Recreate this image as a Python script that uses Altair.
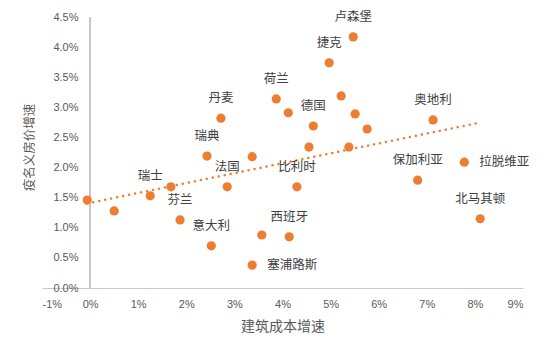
import altair as alt
import pandas as pd

# 建筑成本增速 (%)
x_growth = [-0.06, 0.50, 1.25, 1.68, 1.87, 2.52, 2.85, 3.37, 3.57, 4.14, 4.30,
            6.81, 8.11, 7.78, 7.13, 5.47, 4.97, 5.22, 5.51, 5.76, 4.64, 4.55,
            5.38, 3.87, 4.12, 2.72, 2.43, 3.37]
# 疫名义房价增速 (%)
y_growth = [1.46, 1.28, 1.53, 1.68, 1.13, 0.70, 1.68, 0.38, 0.88, 0.85, 1.68,
            1.79, 1.15, 2.09, 2.79, 4.17, 3.74, 3.19, 2.89, 2.64, 2.69, 2.34,
            2.34, 3.14, 2.91, 2.82, 2.19, 2.18]
names = ["", "", "瑞士", "", "芬兰", "意大利", "法国", "塞浦路斯", "", "西班牙", "比利时",
         "保加利亚", "北马其顿", "拉脱维亚", "奥地利", "卢森堡", "捷克", "", "", "", "德国", "",
         "", "荷兰", "", "丹麦", "瑞典", ""]
label_pos = ["", "", "above", "", "above", "above", "above", "right", "", "above", "above",
             "above", "above", "right", "above", "above", "above", "", "", "", "above", "",
             "", "above", "", "above", "above", ""]

x_ticks = [-1, 0, 1, 2, 3, 4, 5, 6, 7, 8, 9]
y_ticks = [0, 0.5, 1.0, 1.5, 2.0, 2.5, 3.0, 3.5, 4.0, 4.5]

df = pd.DataFrame({"x": x_growth, "y": y_growth, "name": names, "pos": label_pos})

ORANGE = "#ED7D31"
GRAY = "#595959"
CJK = "Noto Sans CJK SC"

xs = alt.Scale(domain=[-1, 9], nice=False, zero=False)
ys = alt.Scale(domain=[0, 4.5], nice=False, zero=False)

x_axis = alt.Axis(
    title="建筑成本增速", values=x_ticks, grid=False, ticks=False,
    domainColor="#c8c8c8", domainWidth=1.2,
    labelExpr="datum.value + '%'", labelColor=GRAY, labelFont="Liberation Sans",
    labelFontSize=11, labelPadding=10, labelOverlap=False, labelBound=False,
    titleFont=CJK, titleFontSize=14, titleFontWeight="normal", titleColor=GRAY,
    titleX=240.5, titleY=38, titleBaseline="middle", titleAlign="center",
)
y_axis = alt.Axis(
    title="疫名义房价增速", values=y_ticks, grid=False, ticks=False, domain=False,
    offset=-37, labelPadding=1, labelOverlap=False, labelBound=False,
    labelExpr="format(datum.value, '.1f') + '%'", labelColor=GRAY,
    labelFont="Liberation Sans", labelFontSize=11, labelBaseline="middle",
    titleFont=CJK, titleFontSize=12.5, titleFontWeight="normal", titleColor=GRAY,
    titleX=-50, titleY=130, titleAngle=-90, titleBaseline="middle", titleAlign="center",
)

X = alt.X("x:Q", scale=xs, axis=x_axis)
Y = alt.Y("y:Q", scale=ys, axis=y_axis)

base = alt.Chart(df)

vline = base.mark_rule(color="#c8c8c8", strokeWidth=1.2).encode(
    x=alt.datum(0, scale=xs, axis=x_axis),
    y=alt.datum(0, scale=ys, axis=y_axis),
    y2=alt.datum(4.5),
)

points = base.mark_circle(size=85, color=ORANGE, opacity=1).encode(x=X, y=Y)

trend = base.transform_regression("x", "y").mark_line(
    color=ORANGE, strokeWidth=2.5, strokeDash=[0.1, 6], strokeCap="round"
).encode(x=X, y=Y)

labels_above = base.transform_filter("datum.pos == 'above'").mark_text(
    font=CJK, fontSize=12.5, color="#404040", dy=-20, baseline="middle", align="center"
).encode(x=X, y=Y, text="name:N")

labels_right = base.transform_filter("datum.pos == 'right'").mark_text(
    font=CJK, fontSize=12.5, color="#404040", dx=15, baseline="middle", align="left"
).encode(x=X, y=Y, text="name:N")

chart = alt.layer(vline, trend, points, labels_above, labels_right).properties(
    width=481, height=271,
    autosize=alt.AutoSizeParams(type="none"),
    padding={"left": 42, "top": 17, "right": 27, "bottom": 66},
    background="white",
).configure_view(stroke=None)

chart.save("out.html", embed_options={"renderer": "svg", "actions": False})
